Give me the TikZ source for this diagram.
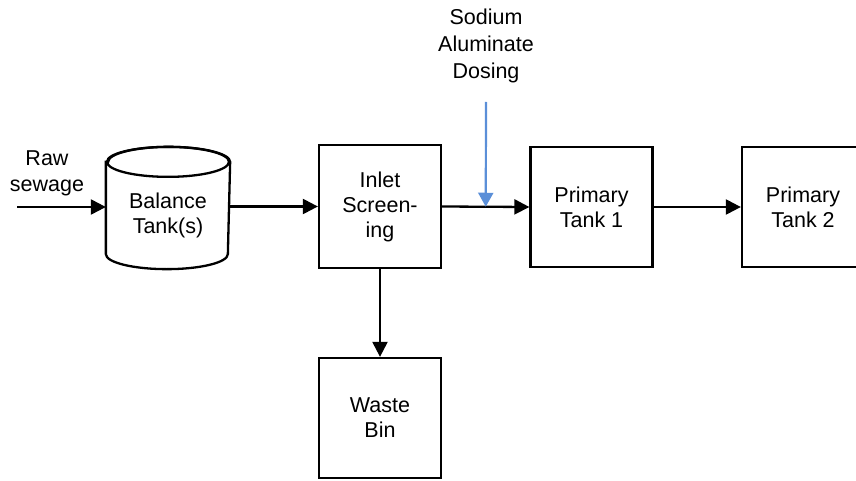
\documentclass[tikz,border=0pt]{standalone}
\usepackage{fontspec}
\setmainfont{Liberation Sans}
\usepackage{xcolor}
\usepackage{tikz}
\usetikzlibrary{calc,arrows.meta,positioning}
\definecolor{ink}{HTML}{000000}
\definecolor{dose}{HTML}{5B8FD8}
\tikzset{
  unit/.style={draw=ink, line width=2.3pt, minimum width=122pt, minimum height=120pt,
    inner sep=0pt, align=center, font=\fontsize{21.5}{25}\selectfont},
  flow/.style={draw=ink, line width=2.3pt, -{Triangle[length=15pt,width=15pt]}},
  dosing/.style={draw=dose, line width=2.2pt, -{Triangle[length=14pt,width=15pt]}},
  tank/.style={draw=ink, line width=2.3pt},
  lab/.style={align=center, font=\fontsize{21.5}{26}\selectfont},
}
\begin{document}
\begin{tikzpicture}[x=1pt,y=1pt]
\clip (0,0) rectangle (856,480);

% process units
\node[unit, draw=none] (bal) at (168,265) {Balance\\Tank(s)};
\node[unit, minimum height=123pt] (inlet) at (380,273.5) {Inlet\\Screen-\\ing};
\node[unit] (p1) at (591.5,273) {Primary\\Tank 1};
\node[unit] (p2) at (803,273) {Primary\\Tank 2};
\node[unit] (waste) at (380,62) {Waste\\Bin};

% balance tank drawn as a cylinder round its node
\draw[tank]
  ([yshift=-8]bal.north west) -- ([yshift=22]bal.south west)
  arc[start angle=180, end angle=360, x radius=61, y radius=15]
  -- ([yshift=-8]bal.north east)
  arc[start angle=0, end angle=180, x radius=61, y radius=15] -- cycle;
\draw[tank] ([yshift=-8]bal.north) ellipse[x radius=61, y radius=15];

% inflow
\node[lab] (raw) at (47,307) {Raw\\sewage};
\coordinate (rawin) at (17,273);
\draw[flow] (rawin) -- (bal.west |- rawin);

% main line
\draw[flow] (bal.east |- inlet.west) -- (inlet.west);
\draw[flow] (inlet.east) -- (p1.west);
\draw[flow] (p1.east) -- (p2.west);
\draw[flow] (inlet.south) -- (waste.north);

% chemical dosing
\node[lab, font=\fontsize{21.5}{27}\selectfont] (sodium) at (486,434) {Sodium\\Aluminate\\Dosing};
\coordinate (dosetop) at (486,378);
\coordinate (mix) at ($(inlet.east)!0.5!(p1.west)$);
\draw[dosing] (dosetop) -- (mix);
\end{tikzpicture}
\end{document}
